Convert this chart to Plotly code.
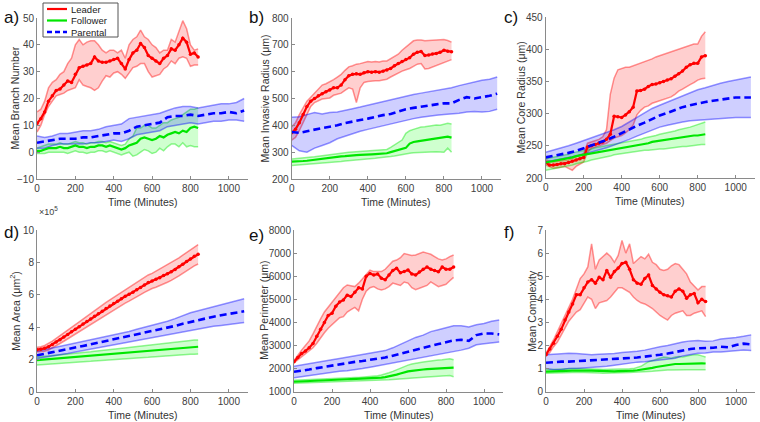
import plotly.graph_objects as go

# time grids (minutes)
T_LF = list(range(0, 841, 20))
T_P = list(range(0, 1081, 40))

# a) Mean Branch Number
A_LEAD_MEAN = [10.7, 12.5, 15, 19, 21, 23, 23.5, 25, 26.5, 26, 29, 31.5, 32, 32.5, 33, 35.5, 34, 33.5, 33.5, 34, 34.5, 35,
               33, 31, 34.5, 37, 38, 40.5, 39, 36, 35, 34, 33, 35, 36, 38.5, 38, 40, 42.5, 41, 36.5, 37, 35.5]
A_LEAD_HI = [15, 16, 19, 24, 26, 27, 29, 30, 33, 35, 40, 42, 40, 41, 41.5, 41.5, 40, 38, 37, 38, 38, 37, 38, 35, 40, 42,
             43, 45.5, 43, 42, 40, 39, 37, 38, 38, 42, 41, 45, 49, 46, 40, 38, 38.5]
A_LEAD_LO = [7.5, 10, 14, 17, 19, 21, 21.5, 22, 23, 23.5, 24, 27, 25, 24.5, 24, 23, 24, 26.5, 28.5, 28, 29.5, 30, 29,
             27.5, 29.5, 31.5, 32, 33, 33, 30, 28, 28.5, 29, 31, 32, 34, 33, 35, 35.5, 35, 32, 32.5, 32.5]
A_FOL_MEAN = [0.5, 0.5, 1, 1.5, 1.5, 1.5, 2, 1.5, 1.5, 2, 2.5, 2, 2, 1.5, 2, 2, 2.5, 2.5, 2, 2.5, 2, 1.5, 1, 1.5, 2.5, 3,
              3.5, 5, 5.5, 5, 4.5, 5, 6, 5.5, 6.5, 7, 7.5, 7, 8, 7.5, 9, 9.5, 9]
A_FOL_HI = [1.5, 2, 2.5, 3, 3, 3, 3.5, 3, 3, 3.5, 4, 3.5, 3.5, 3, 3.5, 3.5, 4, 4, 3.5, 4, 3.5, 3, 2.5, 3, 5, 6, 9, 9, 10,
            10, 9, 9, 10, 11, 11, 12, 12.5, 13, 14, 15, 16, 16, 16.5]
A_FOL_LO = [-0.5, -0.5, -0.5, 0, 0, 0, 0, 0, -0.5, 0, 0.5, 0, 0, -0.5, 0, 0, 0.5, 0.5, 0, 0.5, 0, -0.5, -1, -0.5, 0,
            -1.5, -1, 0, 1, 0.5, -0.5, 0, 1.5, 0.5, 2, 3, 3, 2, 3.5, 2, 2.5, 2, 2]
A_PAR_MEAN = [3.5, 4, 4.5, 5, 5, 5, 5.5, 5.5, 6, 6.5, 7, 7, 8, 9.5, 10, 10.5, 11, 13, 13.5, 13.5, 14, 13.5, 14, 14.5,
              14.5, 15, 14.5, 15.5]
A_PAR_HI = [6, 5.5, 6, 7, 7, 7.5, 8, 8, 8.5, 9.5, 10, 10.5, 12.5, 13, 13.5, 14, 14.5, 15.5, 16.5, 17, 17, 16.5, 17, 17.5,
            18, 18, 18.5, 20]
A_PAR_LO = [1.5, 1.5, 2.5, 3, 3, 3, 3, 3.5, 3.5, 4, 4.5, 4, 5, 6.5, 7, 7.5, 8, 9.5, 10, 10.5, 11, 10.5, 11, 11.5, 11.5,
            12, 12, 11.5]

# b) Mean Invasive Radius
B_LEAD_MEAN = [372, 385, 410, 440, 470, 490, 500, 510, 518, 525, 532, 540, 540, 550, 570, 585, 590, 592, 590, 596, 600,
               598, 600, 598, 602, 606, 612, 622, 630, 638, 645, 652, 665, 672, 675, 660, 662, 666, 668, 672, 680, 676, 674]
B_LEAD_HI = [395, 410, 440, 465, 490, 505, 520, 538, 550, 555, 562, 570, 580, 590, 605, 618, 622, 628, 630, 635, 638,
             636, 638, 636, 640, 640, 648, 656, 665, 680, 692, 705, 715, 718, 718, 715, 716, 716, 718, 718, 720, 716, 710]
B_LEAD_LO = [345, 355, 380, 410, 445, 470, 485, 492, 498, 500, 502, 512, 515, 520, 530, 540, 535, 485, 540, 560, 563,
             565, 566, 566, 568, 572, 580, 588, 596, 602, 607, 612, 620, 628, 630, 610, 612, 618, 622, 628, 636, 642, 645]
B_FOL_MEAN = [265, 265, 266, 267, 268, 270, 272, 274, 276, 278, 280, 282, 283, 284, 285, 287, 288, 289, 290, 290, 291,
              292, 293, 294, 295, 296, 300, 304, 308, 312, 316, 332, 338, 340, 342, 345, 347, 349, 350, 352, 354, 358, 354]
B_FOL_HI = [275, 276, 278, 279, 280, 282, 283, 285, 287, 290, 292, 293, 294, 296, 298, 300, 301, 302, 303, 304, 305,
            306, 307, 308, 309, 310, 318, 328, 335, 345, 370, 380, 385, 390, 394, 395, 397, 399, 401, 400, 404, 408, 405]
B_FOL_LO = [250, 251, 252, 253, 255, 256, 257, 258, 260, 261, 262, 263, 264, 265, 267, 268, 269, 271, 272, 274, 275,
            276, 277, 279, 280, 282, 284, 286, 289, 291, 294, 296, 298, 299, 300, 300, 301, 301, 302, 301, 300, 315, 300]
B_PAR_MEAN = [375, 372, 378, 385, 390, 395, 400, 408, 415, 420, 425, 432, 438, 442, 450, 460, 465, 470, 475, 478, 482,
              482, 495, 505, 500, 505, 510, 518]
B_PAR_HI = [430, 432, 440, 448, 442, 448, 450, 455, 462, 468, 475, 482, 488, 495, 502, 510, 515, 520, 525, 530, 535,
            540, 548, 555, 560, 568, 572, 580]
B_PAR_LO = [325, 305, 300, 315, 325, 335, 350, 360, 370, 378, 385, 392, 398, 405, 412, 420, 425, 430, 435, 438, 440,
            442, 445, 450, 452, 450, 452, 460]

# c) Mean Core Radius
C_LEAD_MEAN = [224, 220, 220, 221, 222, 222, 224, 226, 228, 230, 232, 248, 250, 252, 254, 256, 260, 268, 296, 295, 294,
               298, 303, 310, 335, 336, 338, 342, 345, 346, 348, 350, 352, 354, 358, 362, 366, 372, 376, 378, 378, 388, 390]
C_LEAD_HI = [228, 226, 225, 226, 226, 227, 228, 230, 233, 236, 238, 254, 256, 258, 260, 264, 275, 330, 355, 368, 370,
             372, 372, 374, 376, 378, 380, 382, 385, 388, 390, 392, 394, 396, 398, 400, 402, 404, 406, 408, 408, 420, 427]
C_LEAD_LO = [220, 217, 215, 216, 217, 218, 215, 212, 218, 222, 225, 240, 246, 248, 250, 252, 254, 258, 262, 264, 266,
             270, 275, 282, 298, 305, 310, 312, 316, 318, 320, 322, 324, 326, 330, 335, 338, 342, 345, 348, 352, 354, 355]
C_FOL_MEAN = [224, 225, 226, 227, 229, 230, 231, 232, 234, 235, 236, 237, 238, 240, 241, 242, 243, 244, 245, 246, 247,
              248, 249, 250, 251, 252, 253, 254, 256, 257, 258, 259, 260, 261, 262, 262, 263, 264, 265, 266, 266, 267, 268]
C_FOL_HI = [230, 231, 232, 234, 235, 236, 237, 239, 240, 242, 243, 244, 245, 247, 248, 249, 250, 251, 253, 254, 255,
            256, 257, 258, 259, 260, 262, 263, 265, 266, 268, 269, 271, 272, 273, 275, 276, 278, 279, 281, 283, 285, 287]
C_FOL_LO = [212, 213, 214, 215, 216, 217, 219, 220, 222, 223, 225, 226, 228, 229, 231, 232, 233, 234, 236, 237, 238,
            239, 240, 240, 241, 242, 243, 243, 244, 244, 245, 245, 246, 247, 247, 248, 249, 249, 250, 250, 251, 252, 252]
C_PAR_MEAN = [232, 234, 236, 239, 242, 246, 250, 254, 259, 264, 270, 276, 281, 286, 292, 297, 301, 306, 310, 313, 316,
              318, 320, 322, 323, 325, 325, 325]
C_PAR_HI = [240, 243, 246, 250, 254, 258, 262, 266, 270, 275, 280, 287, 294, 301, 308, 313, 318, 323, 328, 333, 337,
            340, 344, 347, 350, 352, 355, 357]
C_PAR_LO = [225, 227, 229, 231, 234, 237, 240, 243, 247, 251, 255, 260, 265, 270, 275, 279, 282, 285, 287, 289, 290,
            291, 292, 293, 293, 294, 294, 294]

# d) Mean Area (x 10^5 um^2)
D_LEAD_MEAN = [2.6, 2.62, 2.68, 2.78, 2.92, 3.08, 3.22, 3.38, 3.54, 3.7, 3.86, 4.02, 4.18, 4.34, 4.5, 4.66, 4.82, 4.98,
               5.14, 5.3, 5.45, 5.6, 5.75, 5.9, 6.02, 6.15, 6.3, 6.45, 6.6, 6.75, 6.85, 6.95, 7.05, 7.18, 7.3, 7.42,
               7.56, 7.72, 7.88, 8.05, 8.2, 8.38, 8.5]
D_LEAD_HI = [2.75, 2.78, 2.86, 2.98, 3.13, 3.3, 3.46, 3.63, 3.8, 3.98, 4.15, 4.32, 4.5, 4.67, 4.84, 5.01, 5.18, 5.35,
             5.52, 5.68, 5.83, 5.98, 6.14, 6.3, 6.45, 6.6, 6.76, 6.92, 7.08, 7.22, 7.32, 7.45, 7.58, 7.72, 7.86, 7.98,
             8.12, 8.28, 8.45, 8.62, 8.78, 8.95, 9.1]
D_LEAD_LO = [2.45, 2.46, 2.5, 2.58, 2.7, 2.85, 2.98, 3.12, 3.27, 3.42, 3.56, 3.7, 3.85, 4.0, 4.15, 4.3, 4.45, 4.6, 4.75,
             4.9, 5.05, 5.2, 5.34, 5.48, 5.6, 5.72, 5.86, 6.0, 6.14, 6.28, 6.38, 6.46, 6.55, 6.66, 6.77, 6.88, 7.0,
             7.16, 7.32, 7.48, 7.62, 7.78, 7.9]
D_FOL_MEAN = [1.95, 1.97, 1.99, 2.01, 2.03, 2.05, 2.07, 2.09, 2.11, 2.13, 2.15, 2.17, 2.19, 2.21, 2.23, 2.25, 2.27, 2.29,
              2.31, 2.33, 2.35, 2.37, 2.39, 2.41, 2.43, 2.45, 2.47, 2.49, 2.51, 2.53, 2.55, 2.57, 2.59, 2.61, 2.63,
              2.65, 2.67, 2.69, 2.71, 2.73, 2.75, 2.77, 2.78]
D_FOL_HI = [2.15, 2.17, 2.19, 2.21, 2.23, 2.25, 2.27, 2.3, 2.32, 2.35, 2.37, 2.4, 2.42, 2.45, 2.47, 2.5, 2.52, 2.55,
            2.57, 2.6, 2.62, 2.65, 2.67, 2.7, 2.73, 2.76, 2.79, 2.82, 2.85, 2.88, 2.91, 2.94, 2.97, 3.0, 3.03, 3.06,
            3.09, 3.11, 3.13, 3.15, 3.17, 3.19, 3.2]
D_FOL_LO = [1.65, 1.67, 1.68, 1.7, 1.72, 1.73, 1.75, 1.77, 1.78, 1.8, 1.82, 1.83, 1.85, 1.87, 1.88, 1.9, 1.92, 1.93,
            1.95, 1.97, 1.98, 2.0, 2.02, 2.03, 2.05, 2.07, 2.08, 2.1, 2.12, 2.13, 2.15, 2.17, 2.18, 2.2, 2.22, 2.23,
            2.25, 2.27, 2.28, 2.3, 2.31, 2.32, 2.33]
D_PAR_MEAN = [2.25, 2.34, 2.43, 2.53, 2.63, 2.73, 2.83, 2.93, 3.03, 3.13, 3.23, 3.33, 3.43, 3.53, 3.63, 3.73, 3.84,
              3.96, 4.07, 4.2, 4.32, 4.43, 4.54, 4.64, 4.73, 4.81, 4.89, 4.97]
D_PAR_HI = [2.5, 2.6, 2.7, 2.8, 2.9, 3.0, 3.1, 3.2, 3.3, 3.4, 3.5, 3.6, 3.72, 3.86, 3.98, 4.1, 4.22, 4.36, 4.52, 4.7,
            4.88, 5.0, 5.12, 5.25, 5.38, 5.5, 5.62, 5.75]
D_PAR_LO = [2.05, 2.12, 2.2, 2.28, 2.36, 2.45, 2.54, 2.63, 2.72, 2.81, 2.9, 2.99, 3.08, 3.16, 3.25, 3.35, 3.45, 3.55,
            3.64, 3.72, 3.82, 3.9, 3.98, 4.05, 4.1, 4.15, 4.2, 4.28]

# e) Mean Perimeter
E_LEAD_MEAN = [2300, 2480, 2650, 2760, 2900, 3090, 3400, 3700, 4000, 4300, 4400, 4700, 4880, 4970, 5180, 5120, 5300,
               5500, 5450, 6000, 6120, 6050, 6100, 5910, 5850, 6050, 6250, 6340, 6150, 6200, 6270, 6100, 6050, 6180,
               6300, 6400, 6300, 6250, 6190, 6400, 6300, 6300, 6400]
E_LEAD_HI = [2350, 2600, 2800, 3000, 3200, 3500, 3850, 4150, 4450, 4650, 4850, 5050, 5300, 5500, 5620, 5580, 5550, 5700,
             5900, 6100, 6260, 6200, 6200, 6200, 6300, 6500, 6650, 6700, 6800, 6980, 6950, 6900, 6920, 6980, 7050,
             7000, 6950, 6850, 6750, 6700, 6750, 6850, 6920]
E_LEAD_LO = [2250, 2380, 2500, 2620, 2730, 2900, 3100, 3350, 3550, 3750, 3900, 4080, 4200, 4250, 4450, 4550, 4650, 4500,
             5000, 5350, 5500, 5550, 5450, 5400, 5450, 5550, 5700, 5650, 5600, 5750, 5700, 5500, 5420, 5480, 5550,
             5600, 5750, 5650, 5550, 5600, 5650, 5800, 5950]
E_FOL_MEAN = [1430, 1440, 1450, 1455, 1460, 1470, 1480, 1490, 1500, 1505, 1510, 1520, 1525, 1530, 1540, 1545, 1550,
              1555, 1560, 1570, 1575, 1585, 1595, 1610, 1630, 1660, 1700, 1740, 1790, 1840, 1880, 1900, 1930, 1950,
              1960, 1980, 1990, 2000, 2010, 2020, 2030, 2050, 2040]
E_FOL_HI = [1500, 1505, 1510, 1515, 1520, 1525, 1530, 1540, 1550, 1555, 1560, 1570, 1580, 1590, 1600, 1605, 1610, 1620,
            1630, 1640, 1650, 1670, 1690, 1720, 1760, 1820, 1880, 1950, 2020, 2100, 2150, 2200, 2240, 2260, 2290,
            2310, 2340, 2360, 2370, 2380, 2400, 2430, 2380]
E_FOL_LO = [1370, 1375, 1380, 1385, 1390, 1400, 1405, 1410, 1420, 1425, 1430, 1435, 1440, 1445, 1450, 1455, 1460, 1465,
            1470, 1475, 1480, 1485, 1490, 1500, 1505, 1515, 1530, 1545, 1560, 1580, 1590, 1600, 1610, 1620, 1630,
            1640, 1650, 1660, 1670, 1680, 1690, 1700, 1650]
E_PAR_MEAN = [1860, 1900, 1960, 2020, 2080, 2130, 2180, 2230, 2290, 2330, 2370, 2430, 2480, 2560, 2650, 2730, 2810,
              2900, 2980, 3060, 3140, 3220, 3250, 3200, 3450, 3520, 3520, 3480]
E_PAR_HI = [2100, 2150, 2200, 2270, 2320, 2380, 2440, 2500, 2560, 2620, 2680, 2730, 2780, 2900, 3050, 3200, 3350, 3450,
            3600, 3680, 3750, 3850, 3850, 3800, 3900, 3950, 4050, 4100]
E_PAR_LO = [1600, 1650, 1700, 1750, 1800, 1850, 1880, 1910, 1940, 2000, 2060, 2120, 2180, 2250, 2310, 2360, 2420, 2480,
            2550, 2620, 2680, 2730, 2800, 2880, 3030, 3080, 3120, 3150]

# f) Mean Complexity
F_LEAD_MEAN = [1.6, 1.85, 2.1, 2.4, 2.7, 3.1, 3.45, 3.8, 4.2, 4.2, 4.5, 4.75, 4.85, 4.7, 4.95, 4.85, 5.25, 4.95, 5.2,
               5.35, 5.55, 5.6, 5.3, 4.85, 4.7, 4.65, 4.9, 5.05, 4.6, 4.45, 4.3, 4.2, 4.15, 4.1, 4.35, 4.45, 4.35,
               4.05, 4.2, 4.25, 3.85, 4.0, 3.9]
F_LEAD_HI = [1.66, 1.95, 2.25, 2.6, 2.95, 3.3, 3.65, 4.0, 4.45, 4.9, 5.1, 5.4, 6.4, 5.3, 5.7, 5.85, 6.0, 5.85, 5.6, 5.9,
             6.55, 6.0, 6.4, 5.55, 5.7, 5.85, 5.75, 5.95, 5.6, 5.5, 5.3, 5.25, 5.3, 5.45, 5.55, 5.5, 5.3, 5.1, 4.75,
             4.55, 4.4, 4.55, 4.55]
F_LEAD_LO = [1.55, 1.7, 1.95, 2.15, 2.45, 2.75, 3.05, 3.25, 3.45, 3.55, 3.85, 4.1, 4.0, 3.6, 3.85, 3.9, 3.95, 4.1, 4.3,
             4.5, 4.5, 4.4, 4.3, 4.1, 3.95, 3.85, 3.8, 3.7, 3.6, 3.45, 3.3, 3.2, 3.1, 3.3, 3.4, 3.45, 3.5, 3.3, 3.3,
             3.4, 3.45, 3.5, 3.25]
F_FOL_MEAN = [0.87, 0.88, 0.89, 0.9, 0.9, 0.9, 0.91, 0.91, 0.91, 0.92, 0.92, 0.91, 0.91, 0.9, 0.89, 0.88, 0.88, 0.88,
              0.88, 0.89, 0.89, 0.9, 0.9, 0.91, 0.93, 0.95, 0.98, 1.0, 1.03, 1.07, 1.1, 1.14, 1.17, 1.18, 1.2, 1.2,
              1.21, 1.22, 1.22, 1.22, 1.22, 1.23, 1.22]
F_FOL_HI = [0.95, 0.96, 0.97, 0.98, 0.98, 0.99, 0.99, 1.0, 1.0, 1.0, 1.0, 1.0, 0.99, 0.98, 0.97, 0.96, 0.96, 0.96, 0.96,
            0.97, 0.97, 0.98, 0.99, 1.0, 1.05, 1.1, 1.2, 1.3, 1.35, 1.4, 1.45, 1.5, 1.48, 1.45, 1.5, 1.52, 1.5, 1.55,
            1.58, 1.6, 1.6, 1.55, 1.5]
F_FOL_LO = [0.8, 0.8, 0.81, 0.82, 0.82, 0.83, 0.83, 0.83, 0.84, 0.84, 0.84, 0.83, 0.83, 0.82, 0.81, 0.8, 0.8, 0.8,
            0.81, 0.81, 0.82, 0.82, 0.83, 0.84, 0.84, 0.85, 0.86, 0.87, 0.88, 0.9, 0.92, 0.93, 0.94, 0.94, 0.95, 0.95,
            0.95, 0.95, 0.95, 0.95, 0.95, 0.96, 0.95]
F_PAR_MEAN = [1.25, 1.28, 1.3, 1.3, 1.32, 1.32, 1.33, 1.35, 1.38, 1.4, 1.42, 1.45, 1.48, 1.52, 1.55, 1.6, 1.65, 1.72,
              1.8, 1.85, 1.88, 1.88, 1.9, 1.95, 1.92, 2.02, 2.08, 2.05]
F_PAR_HI = [1.6, 1.62, 1.65, 1.66, 1.65, 1.62, 1.6, 1.62, 1.62, 1.65, 1.7, 1.72, 1.75, 1.8, 1.88, 1.95, 2.0, 2.08, 2.15,
            2.2, 2.22, 2.18, 2.2, 2.28, 2.3, 2.35, 2.4, 2.46]
F_PAR_LO = [1.0, 0.95, 0.95, 1.0, 1.0, 1.02, 1.05, 1.08, 1.1, 1.15, 1.2, 1.25, 1.28, 1.3, 1.33, 1.36, 1.4, 1.45, 1.55,
            1.62, 1.66, 1.68, 1.72, 1.72, 1.75, 1.78, 1.8, 1.78]

PANEL_LABELS = ["a)", "b)", "c)", "d)", "e)", "f)"]
Y_TITLES = ["Mean Branch Number", "Mean Invasive Radius (μm)", "Mean Core Radius (μm)",
            "Mean Area (μm<sup>2</sup>)", "Mean Perimeter (μm)", "Mean Complexity"]
X_TITLE = "Time (Minutes)"
Y_RANGES = [[-10, 50], [200, 800], [200, 450], [0, 10], [1000, 8000], [0, 7]]
Y_DTICKS = [10, 100, 50, 2, 1000, 1]
X_TICKS = [0, 200, 400, 600, 800, 1000]
X_RANGE = [0, 1100]
SERIES_NAMES = ["Leader", "Follower", "Parental"]

PANEL_DATA = [
    [(A_LEAD_MEAN, A_LEAD_LO, A_LEAD_HI), (A_FOL_MEAN, A_FOL_LO, A_FOL_HI), (A_PAR_MEAN, A_PAR_LO, A_PAR_HI)],
    [(B_LEAD_MEAN, B_LEAD_LO, B_LEAD_HI), (B_FOL_MEAN, B_FOL_LO, B_FOL_HI), (B_PAR_MEAN, B_PAR_LO, B_PAR_HI)],
    [(C_LEAD_MEAN, C_LEAD_LO, C_LEAD_HI), (C_FOL_MEAN, C_FOL_LO, C_FOL_HI), (C_PAR_MEAN, C_PAR_LO, C_PAR_HI)],
    [(D_LEAD_MEAN, D_LEAD_LO, D_LEAD_HI), (D_FOL_MEAN, D_FOL_LO, D_FOL_HI), (D_PAR_MEAN, D_PAR_LO, D_PAR_HI)],
    [(E_LEAD_MEAN, E_LEAD_LO, E_LEAD_HI), (E_FOL_MEAN, E_FOL_LO, E_FOL_HI), (E_PAR_MEAN, E_PAR_LO, E_PAR_HI)],
    [(F_LEAD_MEAN, F_LEAD_LO, F_LEAD_HI), (F_FOL_MEAN, F_FOL_LO, F_FOL_HI), (F_PAR_MEAN, F_PAR_LO, F_PAR_HI)],
]

# style per series: time grid, line colour, band edge, band fill, dash
STYLE = [
    (T_LF, "#ff0000", "rgba(255,0,0,0.42)", "rgba(255,0,0,0.19)", "solid"),
    (T_LF, "#00e600", "rgba(0,230,0,0.42)", "rgba(0,255,0,0.19)", "solid"),
    (T_P, "#0000ff", "rgba(0,0,255,0.42)", "rgba(0,0,255,0.19)", "7px,4px"),
]

FONT = "Liberation Sans, Arial, Helvetica, sans-serif"
W, H = 760, 422

# pixel boxes of the six axes (left, right, top, bottom)
BOXES = [(37, 248, 18, 179), (291.7, 501, 18, 179), (545.7, 754.7, 17, 178),
         (37, 248, 230, 391.7), (294, 503, 230, 391.7), (546, 755, 230, 391.7)]
LABEL_POS = [(2, 17), (247, 17), (502, 17), (2, 232), (247, 235), (502, 232)]
YTITLE_X = [14, 264, 520, 15, 264, 532]


def px(x):
    return x / W


def py(y):
    return 1 - y / H


fig = go.Figure()

for p, series_data in enumerate(PANEL_DATA):
    xa = "x" if p == 0 else f"x{p + 1}"
    ya = "y" if p == 0 else f"y{p + 1}"
    # confidence bands first
    for (t, col, edge, fill, dash), (mean, lo, hi) in zip(STYLE, series_data):
        fig.add_trace(go.Scatter(x=t, y=hi, mode="lines", line=dict(color=edge, width=1.5),
                                 xaxis=xa, yaxis=ya, hoverinfo="skip"))
        fig.add_trace(go.Scatter(x=t, y=lo, mode="lines", line=dict(color=edge, width=1.5),
                                 fill="tonexty", fillcolor=fill, xaxis=xa, yaxis=ya, hoverinfo="skip"))
    # mean lines on top
    for name, (t, col, edge, fill, dash), (mean, lo, hi) in zip(SERIES_NAMES, STYLE, series_data):
        mode = "lines+markers" if name == "Leader" else "lines"
        fig.add_trace(go.Scatter(x=t, y=mean, mode=mode, name=name,
                                 line=dict(color=col, width=2.2 if dash == "solid" else 2.6, dash=dash),
                                 marker=dict(size=3.5, color=col), xaxis=xa, yaxis=ya))

layout = dict(
    width=W, height=H, margin=dict(l=0, r=0, t=0, b=0),
    paper_bgcolor="white", plot_bgcolor="white",
    font=dict(family=FONT, size=10, color="#404040"),
    showlegend=False,
)

annotations = []
shapes = []
title_font = dict(size=10.5, color="#333333", family=FONT)
for p in range(6):
    l, r, t, b = BOXES[p]
    xkey = "xaxis" if p == 0 else f"xaxis{p + 1}"
    ykey = "yaxis" if p == 0 else f"yaxis{p + 1}"
    common = dict(showline=True, linecolor="#8a8a8a", linewidth=1, ticks="inside", ticklen=3,
                  tickcolor="#8a8a8a", showgrid=False, zeroline=False, automargin=False,
                  tickfont=dict(size=10, color="#404040"))
    layout[xkey] = dict(domain=[px(l), px(r)], anchor="y" if p == 0 else f"y{p + 1}",
                        range=X_RANGE, tickvals=X_TICKS, **common)
    layout[ykey] = dict(domain=[py(b), py(t)], anchor="x" if p == 0 else f"x{p + 1}",
                        range=Y_RANGES[p], dtick=Y_DTICKS[p], tick0=Y_RANGES[p][0], **common)
    # axis titles
    annotations.append(dict(text=X_TITLE, x=px((l + r) / 2), y=py(b + 23), xref="paper", yref="paper",
                            xanchor="center", yanchor="middle", showarrow=False, font=title_font))
    annotations.append(dict(text=Y_TITLES[p], x=px(YTITLE_X[p]), y=py((t + b) / 2), xref="paper", yref="paper",
                            xanchor="center", yanchor="middle", textangle=-90, showarrow=False,
                            font=title_font))
    lx, ly = LABEL_POS[p]
    annotations.append(dict(text=PANEL_LABELS[p], x=px(lx), y=py(ly), xref="paper", yref="paper",
                            xanchor="left", yanchor="middle", showarrow=False,
                            font=dict(size=17, color="#111111", family=FONT)))

annotations.append(dict(text="×10<sup>5</sup>", x=px(37), y=py(211), xref="paper", yref="paper",
                        xanchor="left", yanchor="middle", showarrow=False,
                        font=dict(size=9, color="#404040", family=FONT)))

# legend box drawn by hand (MATLAB style compact legend)
shapes.append(dict(type="rect", xref="paper", yref="paper", x0=px(43), x1=px(118), y0=py(37), y1=py(3),
                   line=dict(color="#555555", width=1), fillcolor="white", layer="above"))
LEG_Y = [9, 20.5, 32]
for name, (t, col, edge, fill, dash), ly in zip(SERIES_NAMES, STYLE, LEG_Y):
    shapes.append(dict(type="line", xref="paper", yref="paper", x0=px(47), x1=px(67), y0=py(ly), y1=py(ly),
                       line=dict(color=col, width=2.2 if dash == "solid" else 2.6,
                                 dash="solid" if dash == "solid" else "5px,3px"), layer="above"))
    annotations.append(dict(text=name, x=px(69), y=py(ly), xref="paper", yref="paper",
                            xanchor="left", yanchor="middle", showarrow=False,
                            font=dict(size=9.5, color="#222222", family=FONT)))

layout["annotations"] = annotations
layout["shapes"] = shapes

fig.update_layout(**layout)
fig.write_html("out.html", config={"displayModeBar": False},
               post_script="document.body.style.margin='0';")
